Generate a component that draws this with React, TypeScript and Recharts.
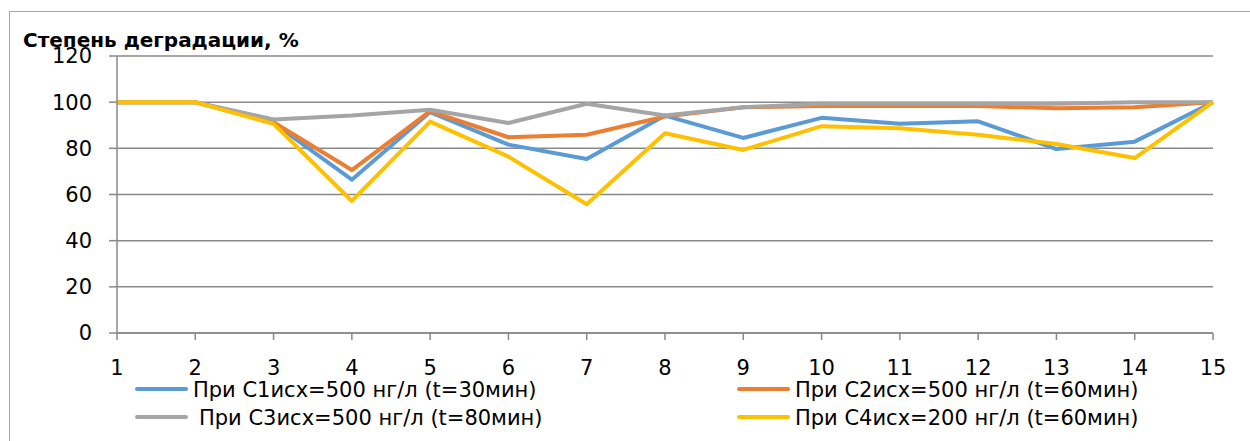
import { LineChart, Line, XAxis, YAxis, CartesianGrid, Legend } from "recharts";

const categories = [1, 2, 3, 4, 5, 6, 7, 8, 9, 10, 11, 12, 13, 14, 15];
const c1Values = [100, 100, 90.9, 66.4, 95.7, 81.6, 75.4, 94.2, 84.5, 93.2, 90.6, 91.7, 79.7, 82.9, 100];
const c2Values = [100, 100, 91.3, 70.6, 96.1, 84.8, 85.9, 93.8, 97.8, 98.3, 98.3, 98.3, 97.4, 97.8, 100];
const c3Values = [100, 100, 92.5, 94.2, 96.7, 91, 99.3, 94.2, 97.8, 99.3, 99.3, 99.3, 99.3, 100, 100];
const c4Values = [100, 100, 90.6, 57.2, 91.6, 76.4, 55.8, 86.5, 79.3, 89.6, 88.7, 85.9, 81.9, 75.8, 100];
const yTicks = [0, 20, 40, 60, 80, 100, 120];

const seriesNames = [
  "При С1исх=500 нг/л (t=30мин)",
  "При С2исх=500 нг/л (t=60мин)",
  "При С3исх=500 нг/л (t=80мин)",
  "При С4исх=200 нг/л (t=60мин)",
];
const seriesColors = ["#5B9BD5", "#ED7D31", "#A5A5A5", "#FFC000"];

const data = categories.map((x, i) => ({
  x,
  c1: c1Values[i],
  c2: c2Values[i],
  c3: c3Values[i],
  c4: c4Values[i],
}));

const FONT = "'DejaVu Sans', sans-serif";
const AXIS = "#898989";

// legend placement, Excel-style 2x2 grid
const legendSlots = [
  { line: 135, text: 193, row: 0 },
  { line: 737, text: 795, row: 0 },
  { line: 135, text: 199, row: 1 },
  { line: 737, text: 795, row: 1 },
];

function ExcelLegend(props: any) {
  const payload = props.payload || [];
  return (
    <div style={{ position: "relative", width: 1250, height: 60, fontFamily: FONT, fontSize: 21 }}>
      {payload.map((p: any, i: number) => {
        const slot = legendSlots[i];
        return (
          <div key={i}>
            <div
              style={{
                position: "absolute",
                left: slot.line,
                top: slot.row * 28 + 11,
                width: 53,
                height: 4,
                borderRadius: 2,
                background: p.color,
              }}
            />
            <div
              style={{
                position: "absolute",
                left: slot.text,
                top: slot.row * 28,
                lineHeight: "28px",
                whiteSpace: "pre",
                color: "#000",
              }}
            >
              {p.value}
            </div>
          </div>
        );
      })}
    </div>
  );
}

export default function App() {
  return (
    <div style={{ position: "absolute", left: 0, top: 0, width: 1250, height: 441, background: "#fff", overflow: "hidden" }}>
      <div
        style={{
          position: "absolute",
          left: 9,
          top: 11,
          width: 1300,
          height: 500,
          borderLeft: "1px solid #a6a6a6",
          borderTop: "1px solid #a6a6a6",
        }}
      />
      <div
        style={{
          position: "absolute",
          left: 23,
          top: 28,
          fontFamily: FONT,
          fontWeight: "bold",
          fontSize: 20,
          lineHeight: "24px",
          color: "#000",
          whiteSpace: "nowrap",
        }}
      >
        Степень деградации, %
      </div>
      <div style={{ position: "absolute", left: 0, top: 0 }}>
        <LineChart width={1250} height={441} data={data} margin={{ top: 56, right: 37, bottom: 68, left: 0 }}>
          <CartesianGrid vertical={false} stroke={AXIS} strokeWidth={1.5} />
          <XAxis
            dataKey="x"
            height={40}
            axisLine={{ stroke: AXIS, strokeWidth: 1.5 }}
            tickLine={{ stroke: AXIS, strokeWidth: 1.5 }}
            tickSize={7}
            tickMargin={20}
            tick={{ fill: "#000", fontSize: 21, fontFamily: FONT }}
            interval={0}
          />
          <YAxis
            width={117}
            domain={[0, 120]}
            ticks={yTicks}
            axisLine={{ stroke: AXIS, strokeWidth: 1.5 }}
            tickLine={{ stroke: AXIS, strokeWidth: 1.5 }}
            tickSize={8}
            tickMargin={17}
            tick={{ fill: "#000", fontSize: 21, fontFamily: FONT }}
          />
          <Legend
            layout="horizontal"
            verticalAlign="middle"
            align="center"
            wrapperStyle={{ top: 376, left: 0, width: 1250 }}
            content={<ExcelLegend />}
          />
          {["c1", "c2", "c3", "c4"].map((k, i) => (
            <Line
              key={k}
              type="linear"
              dataKey={k}
              name={seriesNames[i]}
              stroke={seriesColors[i]}
              strokeWidth={4}
              dot={false}
              activeDot={false}
              strokeLinejoin="round"
              isAnimationActive={false}
            />
          ))}
        </LineChart>
      </div>
    </div>
  );
}
